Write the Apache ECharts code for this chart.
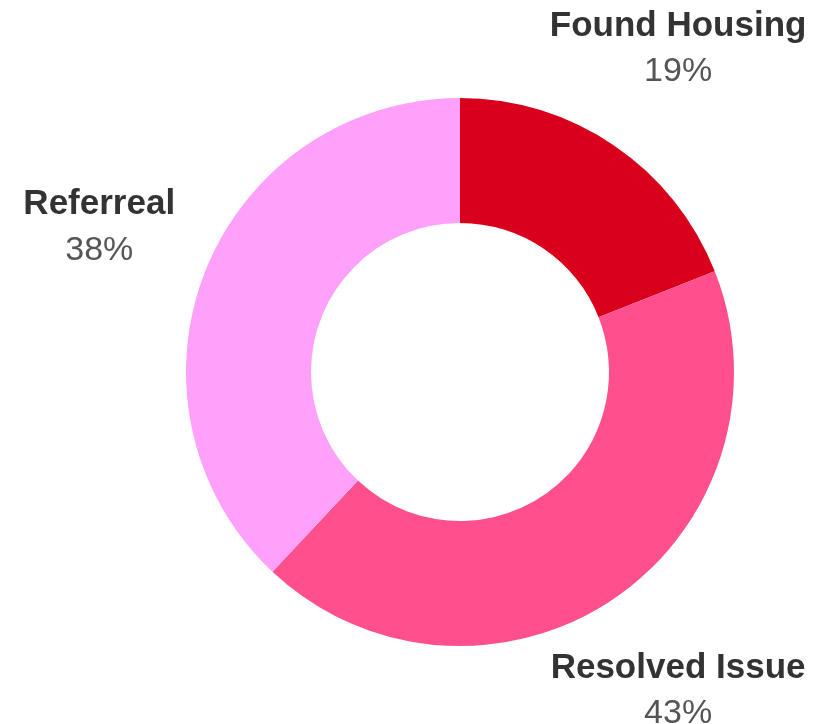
<!DOCTYPE html>
<html>
<head>
<meta charset="utf-8">
<script src="https://cdn.jsdelivr.net/npm/echarts@6/dist/echarts.min.js"></script>
<style>
  html, body { margin: 0; padding: 0; background: #fff; }
  #chart { width: 825px; height: 724px; }
</style>
</head>
<body>
<div id="chart"></div>
<script>
// data
const categories = ["Found Housing", "Resolved Issue", "Referreal"];
const values = [19, 43, 38];
const palette = ["#d9001b", "#ff4f8c", "#ffa0fb"];

const chart = echarts.init(document.getElementById("chart"));

const sliceData = categories.map((name, i) => ({
  name: name,
  value: values[i],
  itemStyle: { color: palette[i] }
}));

const option = {
  animation: false,
  textStyle: { fontFamily: "Liberation Sans, Arial, sans-serif" },
  series: [
    {
      // the donut
      type: "pie",
      center: [460, 372],
      radius: [149, 274],
      startAngle: 90,
      clockwise: true,
      silent: true,
      label: { show: false },
      labelLine: { show: false },
      data: sliceData
    },
    {
      // invisible ring only used to place the labels radially
      type: "pie",
      center: [460, 370],
      radius: [345, 425],
      startAngle: 90,
      clockwise: true,
      silent: true,
      itemStyle: { color: "rgba(0,0,0,0)" },
      labelLine: { show: false },
      label: {
        show: true,
        position: "inside",
        formatter: (p) => "{name|" + p.name + "}\n{pct|" + p.value + "%}",
        rich: {
          name: {
            fontSize: 35,
            fontWeight: "bold",
            color: "#333",
            lineHeight: 46,
            fontFamily: "Liberation Sans"
          },
          pct: {
            fontSize: 34,
            color: "#555",
            lineHeight: 46,
            fontFamily: "Liberation Sans"
          }
        }
      },
      data: categories.map((name, i) => ({ name: name, value: values[i] }))
    }
  ]
};

chart.setOption(option);
</script>
</body>
</html>
